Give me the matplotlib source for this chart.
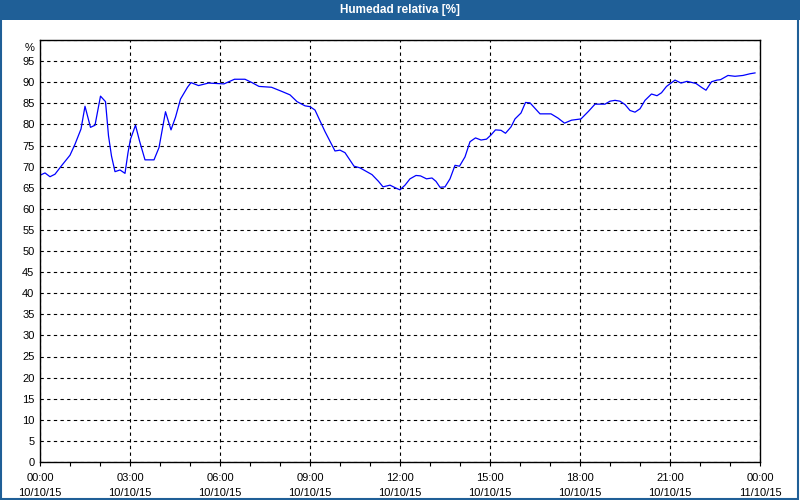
import matplotlib
matplotlib.use('Agg')
import matplotlib.pyplot as plt
import matplotlib.dates as mdates
import matplotlib.transforms as mtransforms
from matplotlib.patches import Rectangle
import pandas as pd

# lecturas de humedad relativa del 10/10/15
horas = ['00:01', '00:10', '00:20', '00:30', '00:43', '01:00', '01:10', '01:22', '01:30', '01:41',
         '01:50', '02:01', '02:11', '02:17', '02:23', '02:30', '02:40', '02:50', '02:56', '03:01',
         '03:11', '03:19', '03:30', '03:48', '03:58', '04:11', '04:22', '04:31', '04:41', '04:55',
         '05:02', '05:17', '05:37', '06:08', '06:29', '06:50', '07:04', '07:18', '07:43', '08:04',
         '08:20', '08:34', '08:50', '09:00', '09:10', '09:30', '09:50', '10:00', '10:10', '10:28',
         '10:40', '11:04', '11:17', '11:26', '11:40', '11:52', '12:00', '12:10', '12:20', '12:32',
         '12:41', '12:53', '13:04', '13:12', '13:20', '13:30', '13:40', '13:50', '13:59', '14:10',
         '14:20', '14:31', '14:42', '14:53', '15:02', '15:11', '15:22', '15:31', '15:42', '15:50',
         '16:02', '16:11', '16:20', '16:40', '17:02', '17:16', '17:29', '17:43', '18:02', '18:17',
         '18:30', '18:50', '19:00', '19:10', '19:20', '19:30', '19:40', '19:50', '20:00', '20:10',
         '20:23', '20:34', '20:43', '20:53', '21:10', '21:22', '21:34', '21:52', '22:04', '22:12',
         '22:23', '22:34', '22:41', '22:56', '23:10', '23:26', '23:40', '23:50']
humedad = [68.0, 68.5, 67.6, 68.2, 70.2, 72.7, 75.3, 78.9, 84.3, 79.3,
           79.8, 86.7, 85.4, 77.3, 72.5, 68.8, 69.2, 68.4, 73.3, 76.5,
           79.8, 76.1, 71.6, 71.6, 74.5, 83.0, 78.7, 81.7, 86.0, 88.8,
           89.9, 89.2, 89.8, 89.6, 90.7, 90.7, 89.9, 89.0, 88.8, 87.8,
           87.0, 85.4, 84.4, 84.2, 83.4, 78.3, 73.7, 73.9, 73.3, 70.1,
           69.7, 68.1, 66.5, 65.2, 65.6, 64.9, 64.5, 65.6, 67.1, 67.9,
           67.8, 67.1, 67.3, 66.5, 65.1, 65.2, 67.1, 70.3, 70.1, 72.3,
           75.9, 76.8, 76.3, 76.5, 77.5, 78.7, 78.6, 77.9, 79.4, 81.3,
           82.7, 85.2, 85.1, 82.5, 82.5, 81.5, 80.3, 81.0, 81.3, 83.1,
           84.8, 84.8, 85.5, 85.7, 85.5, 84.7, 83.3, 82.9, 83.7, 85.7,
           87.2, 86.8, 87.5, 89.0, 90.5, 89.8, 90.2, 89.7, 88.7, 88.1,
           90.1, 90.5, 90.6, 91.6, 91.4, 91.6, 92.0, 92.2]
y_ticks = list(range(0, 101, 5))
y_labels = [str(v) for v in range(0, 100, 5)] + ['%']

plt.rcParams['font.family'] = ['Liberation Sans', 'DejaVu Sans']

t = pd.to_datetime(['2015-10-10 ' + h for h in horas])
azul = '#1f5f97'

fig = plt.figure(figsize=(8, 5), dpi=100)
fig.patches.append(Rectangle((0, 0.96), 1, 0.04, transform=fig.transFigure,
                             facecolor=azul, edgecolor='none', zorder=0))
fig.patches.append(Rectangle((0.001, 0.002), 0.997, 0.996, transform=fig.transFigure,
                             facecolor='none', edgecolor=azul, lw=1.5, zorder=1))
fig.text(0.5, 0.979, 'Humedad relativa [%]', color='white', fontsize=8.5,
         fontweight='bold', ha='center', va='center')

ax = fig.add_axes([0.05, 0.076, 0.90, 0.844])
ax.plot(t, humedad, color='#0000ff', lw=0.9)

ax.set_xlim(pd.Timestamp('2015-10-10 00:00'), pd.Timestamp('2015-10-11 00:00'))
ax.set_ylim(0, 100)
ax.set_yticks(y_ticks)
ax.set_yticklabels(y_labels)
ax.xaxis.set_major_locator(mdates.HourLocator(byhour=range(0, 24, 3)))
ax.xaxis.set_minor_locator(mdates.HourLocator())
ax.xaxis.set_major_formatter(mdates.DateFormatter('%H:%M\n%d/%m/%y'))

ax.grid(True, which='major', color='black', linestyle=(0, (3, 3)), lw=0.8)
ax.tick_params(axis='x', which='both', direction='out', length=3, width=0.8,
               labelsize=8, pad=5)
ax.tick_params(axis='y', which='both', length=0, labelsize=8, pad=4)
for lab in ax.get_xticklabels():
    lab.set_linespacing(1.6)
# el signo % va un poco por debajo del borde superior
pct = ax.get_yticklabels()[-1]
pct.set_transform(pct.get_transform() +
                  mtransforms.ScaledTranslation(0, -5 / 72, fig.dpi_scale_trans))
for s in ax.spines.values():
    s.set_linewidth(1)

fig.savefig('out.png', dpi=100)
